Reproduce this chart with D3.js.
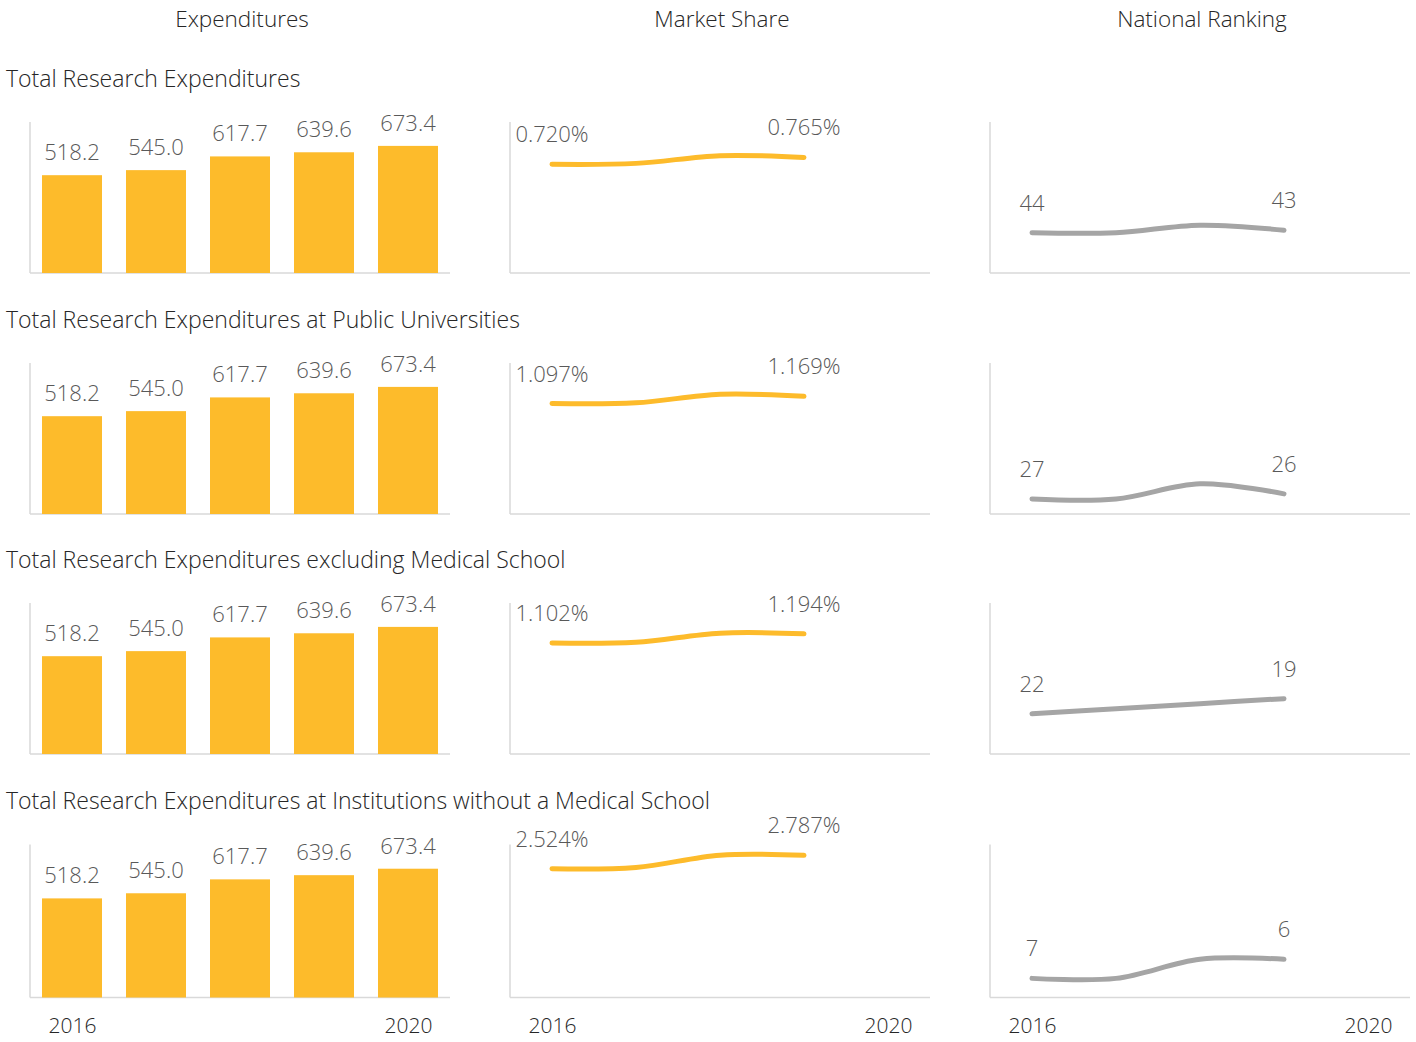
<!DOCTYPE html>
<html>
<head>
<meta charset="utf-8">
<script src="https://cdn.jsdelivr.net/npm/d3@7"></script>
<style>
  html, body { margin: 0; padding: 0; background: #fff; }
  svg text { font-family: "Open Sans", "Noto Sans", sans-serif; font-weight: 300; }
</style>
</head>
<body>
<svg id="chart" width="1416" height="1042"></svg>
<script>
// ---------- data ----------
const years = ["2016", "2017", "2018", "2019", "2020"];
const xTickLabels = ["2016", "2020"];
const columnTitles = ["Expenditures", "Market Share", "National Ranking"];
const rowTitles = [
  "Total Research Expenditures",
  "Total Research Expenditures at Public Universities",
  "Total Research Expenditures excluding Medical School",
  "Total Research Expenditures at Institutions without a Medical School"
];
// Expenditures (bars)
const expTotal    = [518.2, 545.0, 617.7, 639.6, 673.4];
const expPublic   = [518.2, 545.0, 617.7, 639.6, 673.4];
const expExclMed  = [518.2, 545.0, 617.7, 639.6, 673.4];
const expNoMed    = [518.2, 545.0, 617.7, 639.6, 673.4];
// Market share (%), 2020 not reported
const shareTotal   = [0.720, 0.726, 0.777, 0.765, null];
const sharePublic  = [1.097, 1.104, 1.190, 1.169, null];
const shareExclMed = [1.102, 1.110, 1.200, 1.194, null];
const shareNoMed   = [2.524, 2.550, 2.790, 2.787, null];
// National ranking, 2020 not reported
const rankTotal   = [44, 44, 41, 43, null];
const rankPublic  = [27, 27, 24, 26, null];
const rankExclMed = [22, 21, 20, 19, null];
const rankNoMed   = [7, 7, 6, 6, null];
// axis maxima
const expMax   = [800, 800, 800, 800];
const shareMax = [1, 1.5, 1.5, 3];
const rankMax  = [60, 30, 30, 8];

const expRows   = [expTotal, expPublic, expExclMed, expNoMed];
const shareRows = [shareTotal, sharePublic, shareExclMed, shareNoMed];
const rankRows  = [rankTotal, rankPublic, rankExclMed, rankNoMed];

// ---------- layout ----------
const colX = [[30, 450], [510, 930], [990, 1410]];
const rowBottom = [273, 514, 754, 997.5];
const rowTop = [122, 363, 603, 844.5];
const rowTitleY = [87, 328, 568, 809];
const YELLOW = "#FDBB2B", GRAY = "#A5A5A5", AXIS = "#D9D9D9";
const LABEL = "#595959", DARK = "#262626";

const svg = d3.select("#chart");

// column headers
svg.selectAll("text.colTitle").data(columnTitles).join("text")
  .attr("class", "colTitle")
  .attr("x", (d, i) => (colX[i][0] + colX[i][1]) / 2 + 2)
  .attr("y", 27)
  .attr("text-anchor", "middle")
  .attr("font-size", 22.5)
  .attr("fill", DARK)
  .text(d => d);

rowTitles.forEach((title, r) => {
  const bottom = rowBottom[r], top = rowTop[r];
  svg.append("text")
    .attr("x", 6).attr("y", rowTitleY[r])
    .attr("font-size", 23).attr("fill", DARK)
    .text(title);

  const isLast = r === rowTitles.length - 1;

  // --- panel helper ---
  function panel(c) {
    const g = svg.append("g");
    g.append("line").attr("x1", colX[c][0]).attr("x2", colX[c][0])
      .attr("y1", top).attr("y2", bottom)
      .attr("stroke", AXIS).attr("stroke-width", 1.5);
    g.append("line").attr("x1", colX[c][0]).attr("x2", colX[c][1])
      .attr("y1", bottom).attr("y2", bottom)
      .attr("stroke", AXIS).attr("stroke-width", 1.5);
    if (isLast) {
      const xp = d3.scalePoint().domain(years).range(colX[c]).padding(0.5);
      const ax = g.append("g").attr("transform", `translate(0,${bottom})`)
        .call(d3.axisBottom(xp).tickValues(xTickLabels).tickSize(0).tickPadding(21));
      ax.select(".domain").remove();
      ax.selectAll("text").attr("font-size", 21).attr("fill", DARK)
        .style("font-family", '"Open Sans", "Noto Sans", sans-serif').style("font-weight", 300);
    }
    return g;
  }

  // --- bars ---
  {
    const g = panel(0);
    const x = d3.scaleBand().domain(years).range(colX[0]).paddingInner(0.2857).paddingOuter(0.1429);
    const y = d3.scaleLinear().domain([0, expMax[r]]).range([bottom, top]);
    const data = expRows[r].map((v, i) => ({ year: years[i], v }));
    g.selectAll("rect").data(data).join("rect")
      .attr("x", d => x(d.year)).attr("width", x.bandwidth())
      .attr("y", d => y(d.v)).attr("height", d => bottom - y(d.v))
      .attr("fill", YELLOW);
    g.selectAll("text.val").data(data).join("text")
      .attr("class", "val")
      .attr("x", d => x(d.year) + x.bandwidth() / 2)
      .attr("y", d => y(d.v) - 15)
      .attr("text-anchor", "middle").attr("font-size", 22).attr("fill", LABEL)
      .text(d => d3.format(".1f")(d.v));
  }

  // --- line panels ---
  function linePanel(c, values, y, color, fmt) {
    const g = panel(c);
    const x = d3.scalePoint().domain(years).range(colX[c]).padding(0.5);
    const data = values.map((v, i) => ({ year: years[i], v })).filter(d => d.v != null);
    const line = d3.line().x(d => x(d.year)).y(d => y(d.v)).curve(d3.curveCardinal.tension(0));
    g.append("path").datum(data).attr("d", line)
      .attr("fill", "none").attr("stroke", color).attr("stroke-width", 5)
      .attr("stroke-linecap", "round").attr("stroke-linejoin", "round");
    const ends = [data[0], data[data.length - 1]];
    g.selectAll("text.val").data(ends).join("text")
      .attr("class", "val")
      .attr("x", d => x(d.year))
      .attr("y", d => y(d.v) - 22)
      .attr("text-anchor", "middle").attr("font-size", 22).attr("fill", LABEL)
      .text(d => fmt(d.v));
  }
  linePanel(1, shareRows[r], d3.scaleLinear().domain([0, shareMax[r]]).range([bottom, top]),
    YELLOW, v => d3.format(".3f")(v) + "%");
  linePanel(2, rankRows[r], d3.scaleLinear().domain([rankMax[r], 0]).range([bottom, top]),
    GRAY, v => String(v));
});
</script>
</body>
</html>
